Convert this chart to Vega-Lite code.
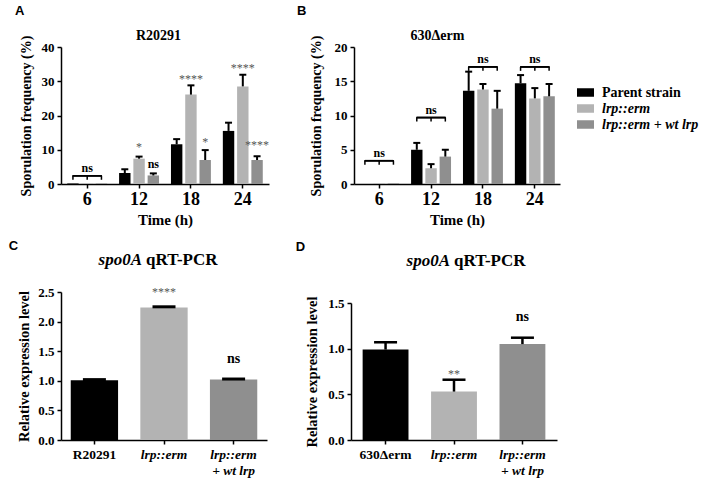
{
  "$schema": "https://vega.github.io/schema/vega-lite/v6.json",
  "background": "white",
  "padding": {"left": 8, "top": 5, "right": 5, "bottom": 5},
  "config": {
    "view": {"stroke": null},
    "font": "Liberation Serif",
    "axis": {"domainColor": "black", "domainWidth": 1.5, "tickColor": "black", "tickWidth": 1.5, "tickSize": 4, "labelColor": "black", "labelFont": "Liberation Serif", "labelFontWeight": "bold", "labelFontSize": 13, "labelPadding": 3, "labelOverlap": false, "titleFont": "Liberation Serif", "titleFontWeight": "bold", "titleColor": "black", "titleFontSize": 13, "grid": false},
    "axisX": {"labelAngle": 0},
    "title": {"font": "Liberation Sans", "fontSize": 13, "fontWeight": "bold", "color": "black"}
  },
  "datasets": {
    "A": [
      {"time": "6", "strain": "Parent strain", "value": 0.15},
      {"time": "6", "strain": "lrp::erm", "value": 0.15},
      {"time": "6", "strain": "lrp::erm + wt lrp", "value": 0.15},
      {"time": "12", "strain": "Parent strain", "value": 3.2, "hi": 4.3},
      {"time": "12", "strain": "lrp::erm", "value": 7.4, "hi": 8.0},
      {"time": "12", "strain": "lrp::erm + wt lrp", "value": 2.5, "hi": 3.1},
      {"time": "18", "strain": "Parent strain", "value": 11.6, "hi": 13.1},
      {"time": "18", "strain": "lrp::erm", "value": 26.1, "hi": 28.8},
      {"time": "18", "strain": "lrp::erm + wt lrp", "value": 7.0, "hi": 9.9},
      {"time": "24", "strain": "Parent strain", "value": 15.5, "hi": 17.9},
      {"time": "24", "strain": "lrp::erm", "value": 28.5, "hi": 31.9},
      {"time": "24", "strain": "lrp::erm + wt lrp", "value": 7.0, "hi": 8.1}
    ],
    "Abr": [
      {"time": "6", "strain": "Parent strain", "level": 2.4},
      {"time": "6", "strain": "lrp::erm", "level": 2.4},
      {"time": "6", "strain": "lrp::erm + wt lrp", "level": 2.4}
    ],
    "Anote": [
      {"time": "12", "strain": "lrp::erm", "ly": 11.6, "label": "*"},
      {"time": "12", "strain": "lrp::erm + wt lrp", "ly": 5.8, "label": "ns"},
      {"time": "18", "strain": "lrp::erm", "ly": 31.6, "label": "****"},
      {"time": "18", "strain": "lrp::erm + wt lrp", "ly": 13.0, "label": "*"},
      {"time": "24", "strain": "lrp::erm", "ly": 34.6, "label": "****"},
      {"time": "24", "strain": "lrp::erm + wt lrp", "ly": 12.4, "label": "****"}
    ],
    "B": [
      {"time": "6", "strain": "Parent strain", "value": 0},
      {"time": "6", "strain": "lrp::erm", "value": 0.1},
      {"time": "6", "strain": "lrp::erm + wt lrp", "value": 0.1},
      {"time": "12", "strain": "Parent strain", "value": 5.0, "hi": 6.0},
      {"time": "12", "strain": "lrp::erm", "value": 2.3, "hi": 2.9},
      {"time": "12", "strain": "lrp::erm + wt lrp", "value": 4.0, "hi": 5.0},
      {"time": "18", "strain": "Parent strain", "value": 13.6, "hi": 16.4},
      {"time": "18", "strain": "lrp::erm", "value": 13.8, "hi": 14.6},
      {"time": "18", "strain": "lrp::erm + wt lrp", "value": 11.0, "hi": 13.6},
      {"time": "24", "strain": "Parent strain", "value": 14.7, "hi": 15.9},
      {"time": "24", "strain": "lrp::erm", "value": 12.5, "hi": 14.0},
      {"time": "24", "strain": "lrp::erm + wt lrp", "value": 12.8, "hi": 14.6}
    ],
    "Bbr": [
      {"time": "6", "strain": "Parent strain", "level": 3.4},
      {"time": "6", "strain": "lrp::erm", "level": 3.4},
      {"time": "6", "strain": "lrp::erm + wt lrp", "level": 3.4},
      {"time": "12", "strain": "Parent strain", "level": 9.7},
      {"time": "12", "strain": "lrp::erm", "level": 9.7},
      {"time": "12", "strain": "lrp::erm + wt lrp", "level": 9.7},
      {"time": "18", "strain": "Parent strain", "level": 17.1},
      {"time": "18", "strain": "lrp::erm", "level": 17.1},
      {"time": "18", "strain": "lrp::erm + wt lrp", "level": 17.1},
      {"time": "24", "strain": "Parent strain", "level": 17.1},
      {"time": "24", "strain": "lrp::erm", "level": 17.1},
      {"time": "24", "strain": "lrp::erm + wt lrp", "level": 17.1}
    ],
    "C": [
      {"label": "R20291", "strain": "Parent strain", "value": 1.01, "hi": 1.02},
      {"label": "lrp::erm", "strain": "lrp::erm", "value": 2.24, "hi": 2.25},
      {"label": "lrp::erm + wt lrp", "strain": "lrp::erm + wt lrp", "value": 1.02, "hi": 1.03}
    ],
    "Cnote": [
      {"label": "lrp::erm", "ly": 2.55, "text": "****"},
      {"label": "lrp::erm + wt lrp", "ly": 1.36, "text": "ns"}
    ],
    "D": [
      {"label": "630Δerm", "strain": "Parent strain", "value": 0.99, "hi": 1.07},
      {"label": "lrp::erm", "strain": "lrp::erm", "value": 0.53, "hi": 0.66},
      {"label": "lrp::erm + wt lrp", "strain": "lrp::erm + wt lrp", "value": 1.05, "hi": 1.12}
    ],
    "Dnote": [
      {"label": "lrp::erm", "ly": 0.76, "text": "**"},
      {"label": "lrp::erm + wt lrp", "ly": 1.35, "text": "ns"}
    ]
  },
  "spacing": 245,
  "bounds": "flush",
  "resolve": {"scale": {"x": "independent", "y": "independent", "color": "independent", "xOffset": "independent"}},
  "vconcat": [
    {
      "spacing": 85,
      "bounds": "flush",
      "resolve": {"scale": {"x": "independent", "y": "independent", "color": "independent", "xOffset": "independent"}},
      "hconcat": [
        {
          "width": 208, "height": 137,
          "title": {"text": "A", "anchor": "start", "frame": "bounds", "dx": -4, "offset": 10},
          "resolve": {"axis": {"x": "independent", "y": "independent"}},
          "layer": [
            {"data": {"name": "A"}, "mark": {"type": "bar"},
             "encoding": {
               "x": {"field": "time", "type": "nominal", "scale": {"domain": ["6", "12", "18", "24"], "paddingInner": 0.23, "paddingOuter": 0.12}, "axis": {"title": "Time (h)", "labelFontSize": 18, "titleFontSize": 15, "labelPadding": 2, "titlePadding": 4}},
               "xOffset": {"field": "strain", "type": "nominal", "scale": {"domain": ["Parent strain", "lrp::erm", "lrp::erm + wt lrp"], "paddingInner": 0.2}},
               "y": {"field": "value", "type": "quantitative", "scale": {"domain": [0, 40], "nice": false}, "axis": {"values": [0, 10, 20, 30, 40], "title": "Sporulation frequency (%)", "titleFontSize": 14, "titlePadding": 8}},
               "color": {"field": "strain", "type": "nominal", "scale": {"domain": ["Parent strain", "lrp::erm", "lrp::erm + wt lrp"], "range": ["#000000", "#b3b3b3", "#8f8f8f"]}, "legend": null}
             }},
            {"data": {"name": "A"}, "mark": {"type": "rule", "strokeWidth": 2, "color": "black"},
             "encoding": {
               "x": {"field": "time", "type": "nominal", "axis": null},
               "xOffset": {"field": "strain", "type": "nominal"},
               "y": {"field": "value", "type": "quantitative", "axis": null},
               "y2": {"field": "hi"}
             }},
            {"data": {"name": "A"}, "mark": {"type": "tick", "orient": "horizontal", "size": 7, "thickness": 2, "color": "black", "opacity": 1},
             "encoding": {
               "x": {"field": "time", "type": "nominal", "axis": {"orient": "top", "title": "R20291", "labels": false, "ticks": false, "domain": false, "titleFontSize": 14, "titlePadding": 5, "titleX": 97, "titleAlign": "center", "titleAnchor": null}},
               "xOffset": {"field": "strain", "type": "nominal"},
               "y": {"field": "hi", "type": "quantitative", "axis": null}
             }},
            {"data": {"name": "Abr"}, "mark": {"type": "tick", "orient": "horizontal", "size": 29, "thickness": 1.5, "color": "black", "opacity": 1},
             "encoding": {
               "x": {"field": "time", "type": "nominal", "axis": null},
               "y": {"field": "level", "type": "quantitative", "axis": null}
             }},
            {"data": {"name": "Abr"}, "mark": {"type": "tick", "orient": "vertical", "size": 4, "thickness": 1.5, "yOffset": 2, "color": "black", "opacity": 1},
             "encoding": {
               "x": {"field": "time", "type": "nominal", "axis": null},
               "xOffset": {"field": "strain", "type": "nominal"},
               "y": {"field": "level", "type": "quantitative", "axis": null}
             }},
            {"data": {"name": "Abr"}, "transform": [{"filter": "datum.strain == 'Parent strain'"}],
             "mark": {"type": "text", "text": "ns", "dy": -8, "fontSize": 12, "fontWeight": "bold", "color": "black", "baseline": "middle"},
             "encoding": {
               "x": {"field": "time", "type": "nominal", "axis": null},
               "y": {"field": "level", "type": "quantitative", "axis": null}
             }},
            {"data": {"name": "Anote"}, "transform": [{"filter": "datum.label != 'ns'"}],
             "mark": {"type": "text", "fontSize": 12, "color": "#555555", "baseline": "middle", "dy": 3},
             "encoding": {
               "x": {"field": "time", "type": "nominal", "axis": null},
               "xOffset": {"field": "strain", "type": "nominal"},
               "y": {"field": "ly", "type": "quantitative", "axis": null},
               "text": {"field": "label"}
             }},
            {"data": {"name": "Anote"}, "transform": [{"filter": "datum.label == 'ns'"}],
             "mark": {"type": "text", "fontSize": 12, "fontWeight": "bold", "color": "black", "baseline": "middle"},
             "encoding": {
               "x": {"field": "time", "type": "nominal", "axis": null},
               "xOffset": {"field": "strain", "type": "nominal"},
               "y": {"field": "ly", "type": "quantitative", "axis": null},
               "text": {"field": "label"}
             }}
          ]
        },
        {
          "width": 206, "height": 137,
          "title": {"text": "B", "anchor": "start", "frame": "bounds", "dx": -12, "offset": 10},
          "resolve": {"axis": {"x": "independent", "y": "independent"}},
          "layer": [
            {"data": {"name": "B"}, "mark": {"type": "bar"},
             "encoding": {
               "x": {"field": "time", "type": "nominal", "scale": {"domain": ["6", "12", "18", "24"], "paddingInner": 0.23, "paddingOuter": 0.1}, "axis": {"title": "Time (h)", "labelFontSize": 18, "titleFontSize": 15, "labelPadding": 2, "titlePadding": 4}},
               "xOffset": {"field": "strain", "type": "nominal", "scale": {"domain": ["Parent strain", "lrp::erm", "lrp::erm + wt lrp"], "paddingInner": 0.2}},
               "y": {"field": "value", "type": "quantitative", "scale": {"domain": [0, 20], "nice": false}, "axis": {"values": [0, 5, 10, 15, 20], "title": "Sporulation frequency (%)", "titleFontSize": 14, "titlePadding": 11}},
               "color": {"field": "strain", "type": "nominal", "scale": {"domain": ["Parent strain", "lrp::erm", "lrp::erm + wt lrp"], "range": ["#000000", "#b3b3b3", "#8f8f8f"]},
                 "legend": {"title": null, "orient": "none", "legendX": 223, "legendY": 37, "symbolType": "M-1,-0.5H1V0.5H-1Z", "symbolSize": 289, "symbolStrokeWidth": 0, "labelFont": "Liberation Serif", "labelFontSize": 14, "labelFontWeight": "bold", "labelColor": "black", "rowPadding": -1, "labelOffset": 8, "labelLimit": 300,
                   "encode": {"labels": {"update": {"fontStyle": {"signal": "datum.value == 'Parent strain' ? 'normal' : 'italic'"}}}}}}
             }},
            {"data": {"name": "B"}, "mark": {"type": "rule", "strokeWidth": 2, "color": "black"},
             "encoding": {
               "x": {"field": "time", "type": "nominal", "axis": null},
               "xOffset": {"field": "strain", "type": "nominal"},
               "y": {"field": "value", "type": "quantitative", "axis": null},
               "y2": {"field": "hi"}
             }},
            {"data": {"name": "B"}, "mark": {"type": "tick", "orient": "horizontal", "size": 7, "thickness": 2, "color": "black", "opacity": 1},
             "encoding": {
               "x": {"field": "time", "type": "nominal", "axis": {"orient": "top", "title": "630Δerm", "labels": false, "ticks": false, "domain": false, "titleFontSize": 14, "titlePadding": 5, "titleX": 83, "titleAlign": "center", "titleAnchor": null}},
               "xOffset": {"field": "strain", "type": "nominal"},
               "y": {"field": "hi", "type": "quantitative", "axis": null}
             }},
            {"data": {"name": "Bbr"}, "mark": {"type": "tick", "orient": "horizontal", "size": 29, "thickness": 1.5, "color": "black", "opacity": 1},
             "encoding": {
               "x": {"field": "time", "type": "nominal", "axis": null},
               "y": {"field": "level", "type": "quantitative", "axis": null}
             }},
            {"data": {"name": "Bbr"}, "mark": {"type": "tick", "orient": "vertical", "size": 4, "thickness": 1.5, "yOffset": 2, "color": "black", "opacity": 1},
             "encoding": {
               "x": {"field": "time", "type": "nominal", "axis": null},
               "xOffset": {"field": "strain", "type": "nominal"},
               "y": {"field": "level", "type": "quantitative", "axis": null}
             }},
            {"data": {"name": "Bbr"}, "transform": [{"filter": "datum.strain == 'Parent strain'"}],
             "mark": {"type": "text", "text": "ns", "dy": -8, "fontSize": 12, "fontWeight": "bold", "color": "black", "baseline": "middle"},
             "encoding": {
               "x": {"field": "time", "type": "nominal", "axis": null},
               "y": {"field": "level", "type": "quantitative", "axis": null}
             }}
          ]
        }
      ]
    },
    {
      "spacing": 84,
      "bounds": "flush",
      "resolve": {"scale": {"x": "independent", "y": "independent", "color": "independent"}},
      "hconcat": [
        {
          "width": 206, "height": 148,
          "title": {"text": "C", "anchor": "start", "frame": "bounds", "dx": -8, "offset": -2},
          "resolve": {"axis": {"x": "independent", "y": "independent"}},
          "layer": [
            {"data": {"name": "C"}, "mark": {"type": "bar"},
             "encoding": {
               "x": {"field": "label", "type": "nominal", "scale": {"domain": ["R20291", "lrp::erm", "lrp::erm + wt lrp"], "paddingInner": 0.32, "paddingOuter": 0.14},
                 "axis": {"title": null, "labelFontSize": 13.5, "labelLineHeight": 16, "labelPadding": 3,
                   "labelExpr": "datum.label == 'lrp::erm + wt lrp' ? ['lrp::erm', '+ wt lrp'] : datum.label",
                   "labelFontStyle": {"condition": {"test": "datum.label == 'R20291'", "value": "normal"}, "value": "italic"}}},
               "y": {"field": "value", "type": "quantitative", "scale": {"domain": [0, 2.5], "nice": false}, "axis": {"values": [0, 0.5, 1, 1.5, 2, 2.5], "format": ".1f", "title": "Relative expression level", "titleFontSize": 14.5, "titlePadding": 6}},
               "color": {"field": "strain", "type": "nominal", "scale": {"domain": ["Parent strain", "lrp::erm", "lrp::erm + wt lrp"], "range": ["#000000", "#b3b3b3", "#8f8f8f"]}, "legend": null}
             }},
            {"data": {"name": "C"}, "mark": {"type": "rule", "strokeWidth": 2.5, "color": "black"},
             "encoding": {
               "x": {"field": "label", "type": "nominal", "axis": null},
               "y": {"field": "value", "type": "quantitative", "axis": null},
               "y2": {"field": "hi"}
             }},
            {"data": {"name": "C"}, "mark": {"type": "tick", "orient": "horizontal", "size": 23, "thickness": 3, "color": "black", "opacity": 1},
             "encoding": {
               "x": {"field": "label", "type": "nominal", "axis": null},
               "y": {"field": "hi", "type": "quantitative", "axis": null}
             }},
            {"data": {"name": "Cnote"}, "transform": [{"filter": "datum.text != 'ns'"}],
             "mark": {"type": "text", "fontSize": 12, "color": "#555555", "baseline": "middle", "dy": 3},
             "encoding": {
               "x": {"field": "label", "type": "nominal", "axis": null},
               "y": {"field": "ly", "type": "quantitative", "axis": null},
               "text": {"field": "text"}
             }},
            {"data": {"name": "Cnote"}, "transform": [{"filter": "datum.text == 'ns'"}],
             "mark": {"type": "text", "fontSize": 14, "fontWeight": "bold", "color": "black", "baseline": "middle"},
             "encoding": {
               "x": {"field": "label", "type": "nominal", "axis": null},
               "y": {"field": "ly", "type": "quantitative", "axis": null},
               "text": {"field": "text"}
             }},
            {"data": {"values": [{"h": "spo0A"}]},
             "mark": {"type": "text", "fontSize": 17, "fontWeight": "bold", "fontStyle": "italic", "color": "black", "align": "right", "baseline": "alphabetic", "dx": -22},
             "encoding": {
               "x": {"datum": "lrp::erm", "type": "nominal", "axis": null},
               "y": {"datum": 2.96, "type": "quantitative", "axis": null},
               "text": {"field": "h"}
             }},
            {"data": {"values": [{"h": "qRT-PCR"}]},
             "mark": {"type": "text", "fontSize": 17, "fontWeight": "bold", "color": "black", "align": "left", "baseline": "alphabetic", "dx": -18},
             "encoding": {
               "x": {"datum": "lrp::erm", "type": "nominal", "axis": null},
               "y": {"datum": 2.96, "type": "quantitative", "axis": null},
               "text": {"field": "h"}
             }}
          ]
        },
        {
          "width": 206, "height": 148,
          "title": {"text": "D", "anchor": "start", "frame": "bounds", "dx": -9, "offset": -2},
          "resolve": {"axis": {"x": "independent", "y": "independent"}},
          "layer": [
            {"data": {"name": "D"}, "mark": {"type": "bar"},
             "encoding": {
               "x": {"field": "label", "type": "nominal", "scale": {"domain": ["630Δerm", "lrp::erm", "lrp::erm + wt lrp"], "paddingInner": 0.33, "paddingOuter": 0.17},
                 "axis": {"title": null, "labelFontSize": 13.5, "labelLineHeight": 16, "labelPadding": 3,
                   "labelExpr": "datum.label == 'lrp::erm + wt lrp' ? ['lrp::erm', '+ wt lrp'] : datum.label",
                   "labelFontStyle": {"condition": {"test": "datum.label == '630Δerm'", "value": "normal"}, "value": "italic"}}},
               "y": {"field": "value", "type": "quantitative", "scale": {"domain": [0, 1.5], "range": [148, 11], "nice": false}, "axis": {"values": [0, 0.5, 1, 1.5], "format": ".1f", "title": "Relative expression level", "titleFontSize": 14.5, "titlePadding": 8}},
               "color": {"field": "strain", "type": "nominal", "scale": {"domain": ["Parent strain", "lrp::erm", "lrp::erm + wt lrp"], "range": ["#000000", "#b3b3b3", "#8f8f8f"]}, "legend": null}
             }},
            {"data": {"name": "D"}, "mark": {"type": "rule", "strokeWidth": 2.5, "color": "black"},
             "encoding": {
               "x": {"field": "label", "type": "nominal", "axis": null},
               "y": {"field": "value", "type": "quantitative", "axis": null},
               "y2": {"field": "hi"}
             }},
            {"data": {"name": "D"}, "mark": {"type": "tick", "orient": "horizontal", "size": 23, "thickness": 2.5, "color": "black", "opacity": 1},
             "encoding": {
               "x": {"field": "label", "type": "nominal", "axis": null},
               "y": {"field": "hi", "type": "quantitative", "axis": null}
             }},
            {"data": {"name": "Dnote"}, "transform": [{"filter": "datum.text != 'ns'"}],
             "mark": {"type": "text", "fontSize": 12, "color": "#555555", "baseline": "middle", "dy": 3},
             "encoding": {
               "x": {"field": "label", "type": "nominal", "axis": null},
               "y": {"field": "ly", "type": "quantitative", "axis": null},
               "text": {"field": "text"}
             }},
            {"data": {"name": "Dnote"}, "transform": [{"filter": "datum.text == 'ns'"}],
             "mark": {"type": "text", "fontSize": 14, "fontWeight": "bold", "color": "black", "baseline": "middle"},
             "encoding": {
               "x": {"field": "label", "type": "nominal", "axis": null},
               "y": {"field": "ly", "type": "quantitative", "axis": null},
               "text": {"field": "text"}
             }},
            {"data": {"values": [{"h": "spo0A"}]},
             "mark": {"type": "text", "fontSize": 17, "fontWeight": "bold", "fontStyle": "italic", "color": "black", "align": "right", "baseline": "alphabetic", "dx": -4},
             "encoding": {
               "x": {"datum": "lrp::erm", "type": "nominal", "axis": null},
               "y": {"datum": 1.905, "type": "quantitative", "axis": null},
               "text": {"field": "h"}
             }},
            {"data": {"values": [{"h": "qRT-PCR"}]},
             "mark": {"type": "text", "fontSize": 17, "fontWeight": "bold", "color": "black", "align": "left", "baseline": "alphabetic", "dx": 0},
             "encoding": {
               "x": {"datum": "lrp::erm", "type": "nominal", "axis": null},
               "y": {"datum": 1.905, "type": "quantitative", "axis": null},
               "text": {"field": "h"}
             }}
          ]
        }
      ]
    }
  ]
}
